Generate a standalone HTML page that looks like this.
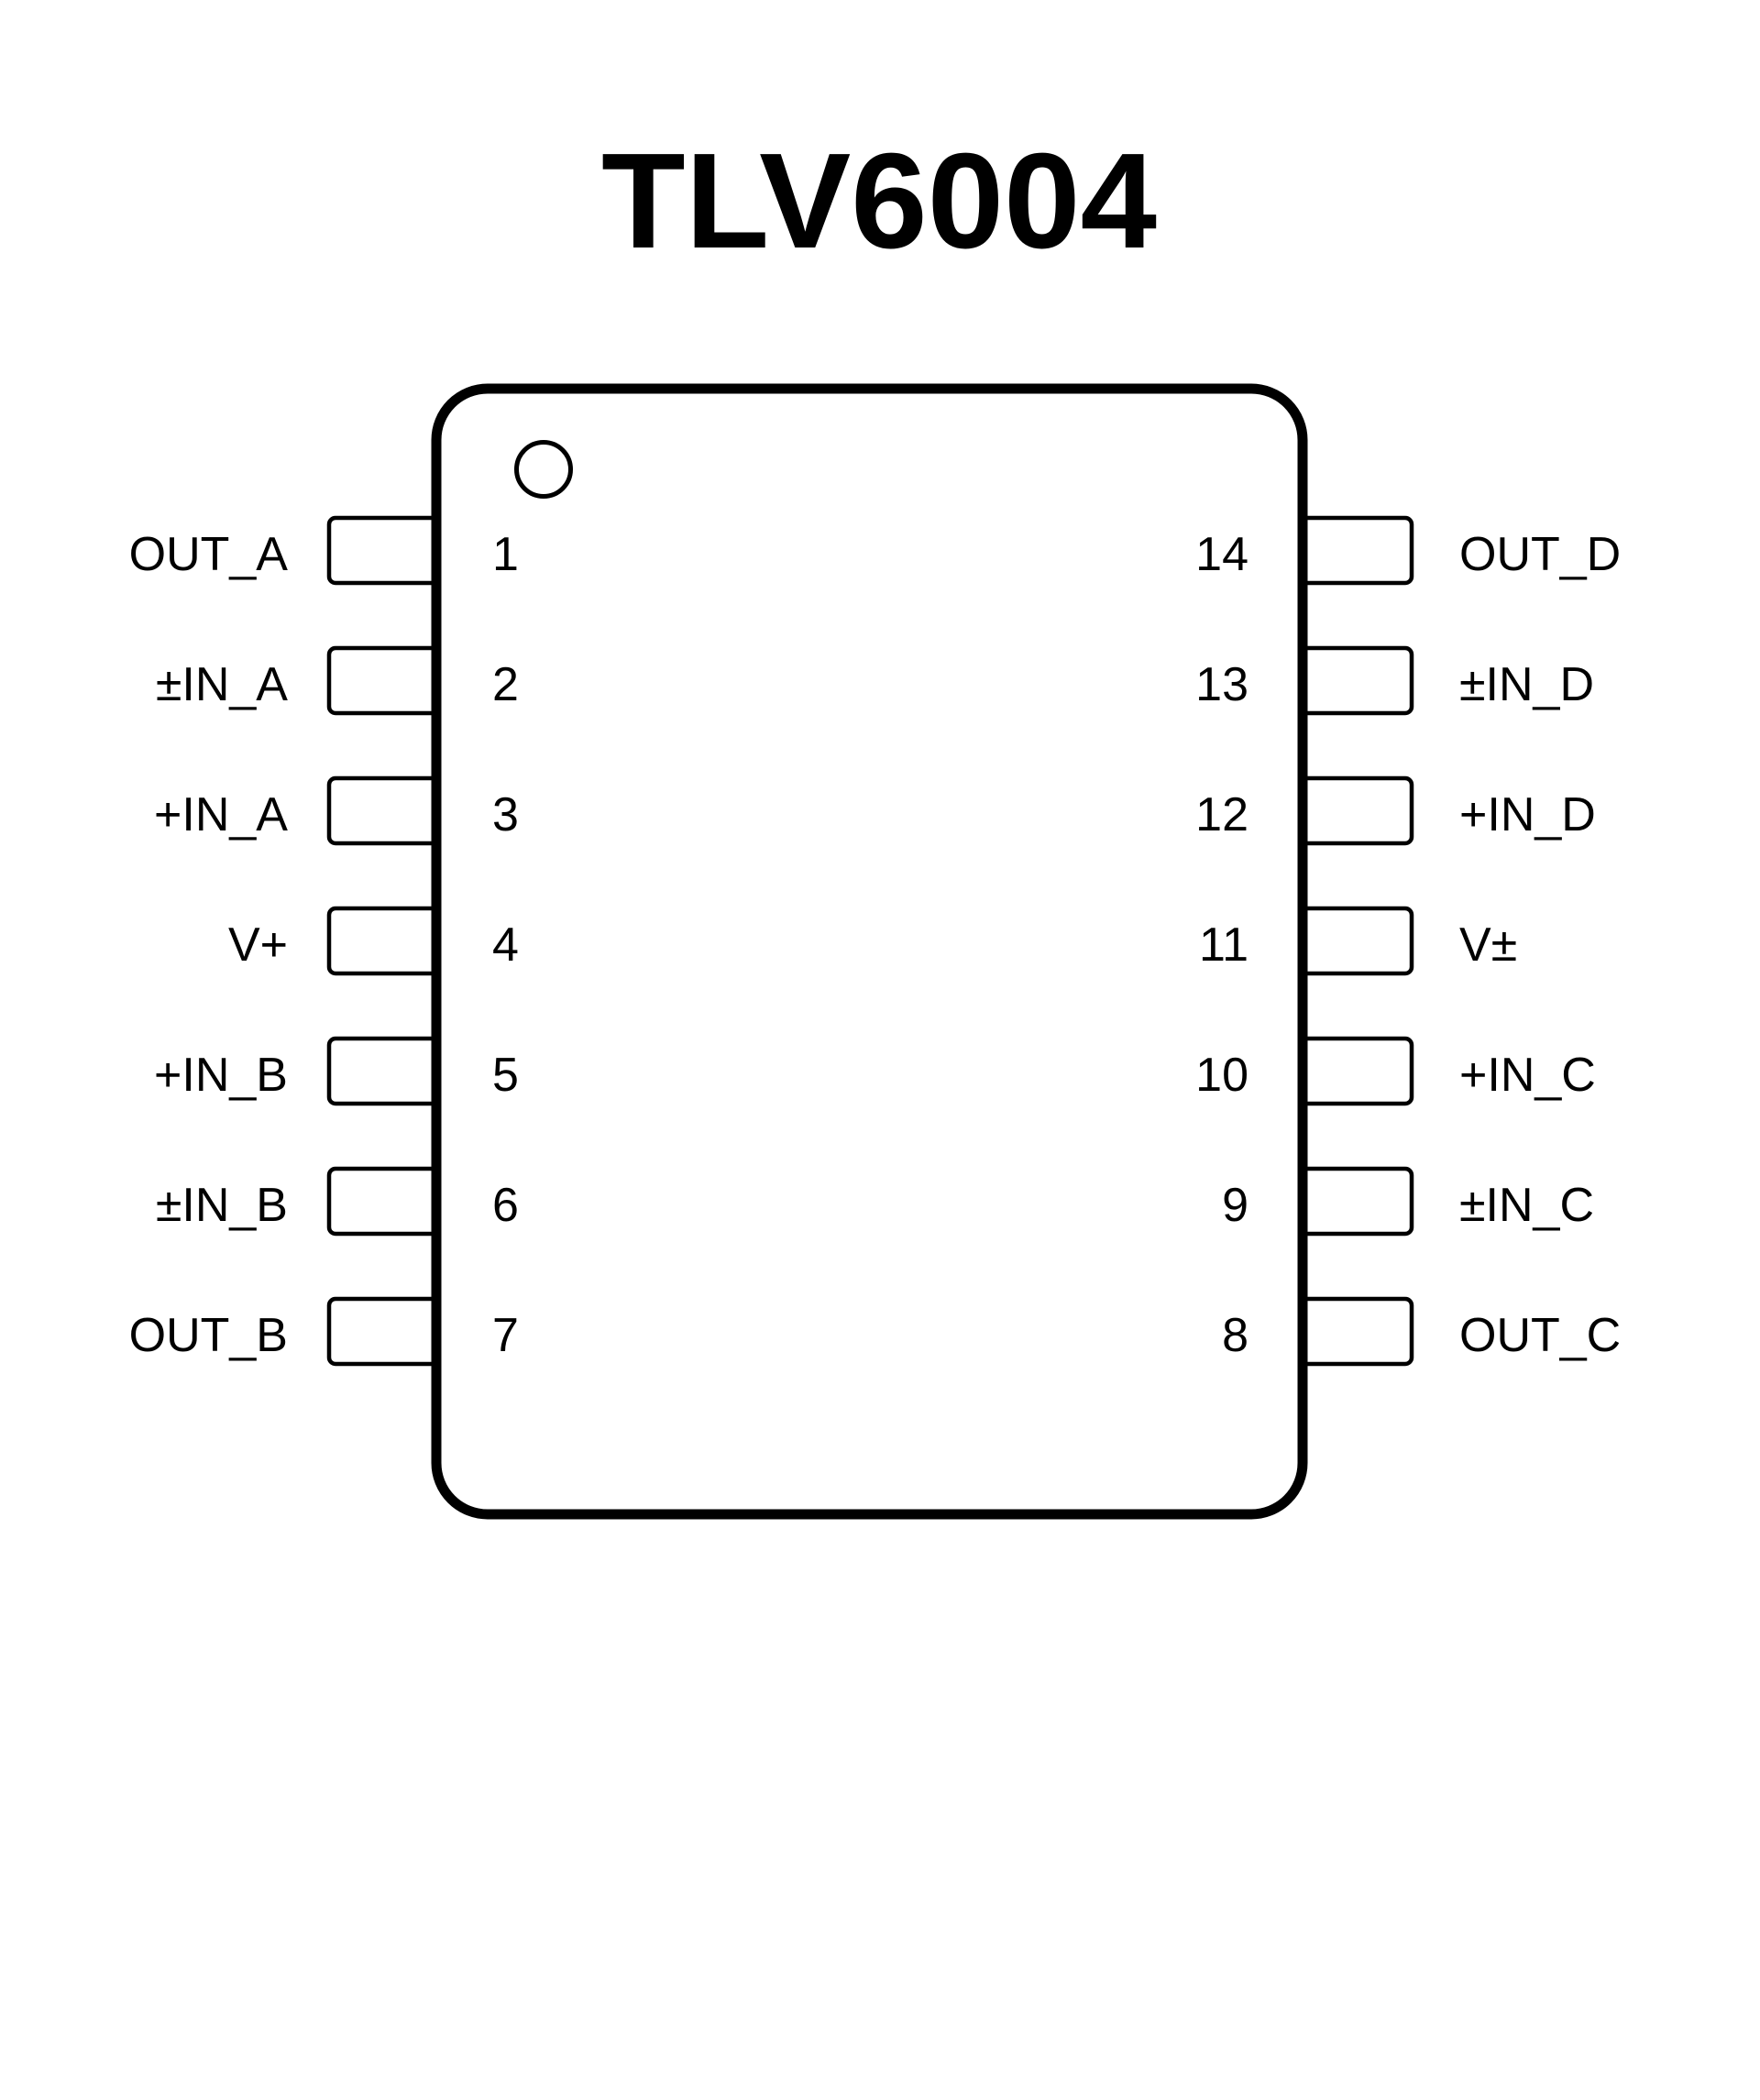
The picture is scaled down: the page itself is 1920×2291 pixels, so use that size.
<!DOCTYPE html>
<html><head><meta charset="utf-8"><style>
html,body{margin:0;padding:0;background:#fff;}
svg{display:block;}
text{font-family:"Liberation Sans",Arial,sans-serif;fill:#000;}
</style></head><body>
<svg width="1920" height="2291" viewBox="0 0 1920 2291" xmlns="http://www.w3.org/2000/svg">
<text x="959" y="270" font-size="148" font-weight="bold" text-anchor="middle" textLength="606" lengthAdjust="spacingAndGlyphs">TLV6004</text>
<g fill="#fff" stroke="#000" stroke-width="4.5">
<rect x="359" y="565" width="120" height="71" rx="7"/>
<rect x="359" y="707" width="120" height="71" rx="7"/>
<rect x="359" y="849" width="120" height="71" rx="7"/>
<rect x="359" y="991" width="120" height="71" rx="7"/>
<rect x="359" y="1133" width="120" height="71" rx="7"/>
<rect x="359" y="1275" width="120" height="71" rx="7"/>
<rect x="359" y="1417" width="120" height="71" rx="7"/>
<rect x="1419" y="565" width="121" height="71" rx="7"/>
<rect x="1419" y="707" width="121" height="71" rx="7"/>
<rect x="1419" y="849" width="121" height="71" rx="7"/>
<rect x="1419" y="991" width="121" height="71" rx="7"/>
<rect x="1419" y="1133" width="121" height="71" rx="7"/>
<rect x="1419" y="1275" width="121" height="71" rx="7"/>
<rect x="1419" y="1417" width="121" height="71" rx="7"/>
</g>
<rect x="476" y="424" width="945" height="1228" rx="56" fill="none" stroke="#000" stroke-width="11"/>
<circle cx="593" cy="512" r="29.5" fill="none" stroke="#000" stroke-width="5"/>
<g font-size="52" text-anchor="end">
<text x="314" y="622">OUT_A</text>
<text x="314" y="764">±IN_A</text>
<text x="314" y="906">+IN_A</text>
<text x="314" y="1048">V+</text>
<text x="314" y="1190">+IN_B</text>
<text x="314" y="1332">±IN_B</text>
<text x="314" y="1474">OUT_B</text>
<text x="1362" y="622">14</text>
<text x="1362" y="764">13</text>
<text x="1362" y="906">12</text>
<text x="1362" y="1048">11</text>
<text x="1362" y="1190">10</text>
<text x="1362" y="1332">9</text>
<text x="1362" y="1474">8</text>
</g>
<g font-size="52">
<text x="537" y="622">1</text>
<text x="537" y="764">2</text>
<text x="537" y="906">3</text>
<text x="537" y="1048">4</text>
<text x="537" y="1190">5</text>
<text x="537" y="1332">6</text>
<text x="537" y="1474">7</text>
<text x="1592" y="622">OUT_D</text>
<text x="1592" y="764">±IN_D</text>
<text x="1592" y="906">+IN_D</text>
<text x="1592" y="1048">V±</text>
<text x="1592" y="1190">+IN_C</text>
<text x="1592" y="1332">±IN_C</text>
<text x="1592" y="1474">OUT_C</text>
</g>
</svg>
</body></html>
